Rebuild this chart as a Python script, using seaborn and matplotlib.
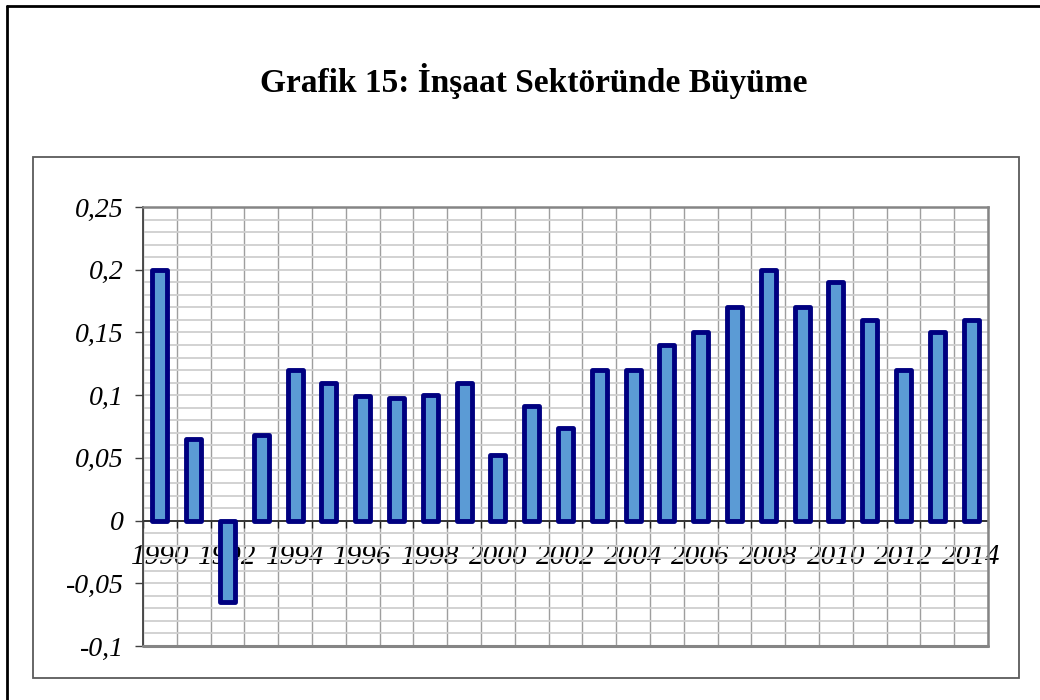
import numpy as np
import pandas as pd
import seaborn as sns
import matplotlib.pyplot as plt
from matplotlib.patches import Rectangle
from matplotlib.lines import Line2D

# ==========================================
# Data
# ==========================================
YEARS = ['1990', '1991', '1992', '1993', '1994', '1995', '1996', '1997', '1998',
         '1999', '2000', '2001', '2002', '2003', '2004', '2005', '2006', '2007',
         '2008', '2009', '2010', '2011', '2012', '2013', '2014']
GROWTH = [0.200, 0.065, -0.065, 0.068, 0.120, 0.110, 0.099, 0.098, 0.100,
          0.110, 0.052, 0.091, 0.074, 0.120, 0.120, 0.140, 0.150, 0.170,
          0.200, 0.170, 0.190, 0.160, 0.120, 0.150, 0.160]
Y_TICKS = [-0.1, -0.05, 0, 0.05, 0.1, 0.15, 0.2, 0.25]
Y_LABELS = ['-0,1', '-0,05', '0', '0,05', '0,1', '0,15', '0,2', '0,25']
TITLE = 'Grafik 15: İnşaat Sektöründe Büyüme'

# ==========================================
# Style
# ==========================================
sns.set_style('white')
plt.rcParams['font.family'] = ['Liberation Serif', 'DejaVu Serif']
plt.rcParams['font.style'] = 'italic'   # all axis labels are italic
BAR_FILL = '#5B9BD5'
BAR_EDGE = '#000080'
GRID_H = '#cfcfcf'
GRID_V = '#9e9e9e'

df = pd.DataFrame({'Year': YEARS, 'Growth': GROWTH})

fig = plt.figure(figsize=(10.4, 7), dpi=100)
ax = fig.add_axes([0.1375, 0.0771, 0.8125, 0.6271])

sns.barplot(data=df, x='Year', y='Growth', order=YEARS, color=BAR_FILL,
            edgecolor=BAR_EDGE, linewidth=3.5, width=0.44, saturation=1,
            ax=ax, zorder=3)
for p in ax.patches:
    p.set_joinstyle('round')

n = len(YEARS)
ax.set_xlim(-0.5, n - 0.5)
ax.set_ylim(-0.1, 0.25)

# Grid: light horizontals every 0.01, darker verticals between categories
ax.set_yticks(Y_TICKS)
ax.set_yticklabels(Y_LABELS)
ax.set_yticks(np.arange(-0.1, 0.2501, 0.01), minor=True)
ax.set_xticks(range(n))
ax.set_xticklabels([y if i % 2 == 0 else '' for i, y in enumerate(YEARS)])
ax.set_xticks(np.arange(-0.5, n, 1.0), minor=True)
ax.grid(which='both', axis='y', color=GRID_H, linewidth=1.3, zorder=0)
ax.grid(which='minor', axis='x', color=GRID_V, linewidth=1.0, zorder=0)
ax.set_axisbelow(True)

ax.tick_params(axis='y', which='major', direction='out', length=6, width=1,
               color='#404040', pad=8, left=True, labelsize=20,
               labelcolor='black')
ax.tick_params(axis='y', which='minor', length=0)
ax.tick_params(axis='x', which='major', length=0, pad=17, labelsize=21,
               labelcolor='black')
ax.tick_params(axis='x', which='minor', direction='out', length=5, width=1,
               color='#202020', bottom=True)

# Zero line carries the category axis
ax.spines['bottom'].set_position(('data', 0))
ax.spines['bottom'].set_color('#1a1a1a')
ax.spines['bottom'].set_linewidth(1.2)
ax.spines['bottom'].set_zorder(2)
ax.spines['left'].set_color('#404040')
ax.spines['left'].set_linewidth(1.3)
for s in ['top', 'right']:
    ax.spines[s].set_visible(True)
    ax.spines[s].set_color('#858585')
    ax.spines[s].set_linewidth(1.8)
ax.axhline(-0.1, color='#858585', linewidth=2.2, clip_on=False, zorder=4)

ax.set_xlabel('')
ax.set_ylabel('')

# Chart frame and page border
fig.patches.append(Rectangle((33 / 1040, 1 - 678 / 700), 986 / 1040, 521 / 700,
                             transform=fig.transFigure, fill=False,
                             edgecolor='#5a5a5a', linewidth=1.3))
fig.lines.append(Line2D([7 / 1040, 1.0], [1 - 6 / 700, 1 - 6 / 700],
                        transform=fig.transFigure, color='black', linewidth=2))
fig.lines.append(Line2D([7 / 1040, 7 / 1040], [0.0, 1 - 6 / 700],
                        transform=fig.transFigure, color='black', linewidth=2))

fig.text(534 / 1040, 1 - 81 / 700, TITLE, ha='center', va='center',
         fontsize=24, fontweight='bold', fontstyle='normal', color='black')

fig.savefig('out.png', dpi=100)
